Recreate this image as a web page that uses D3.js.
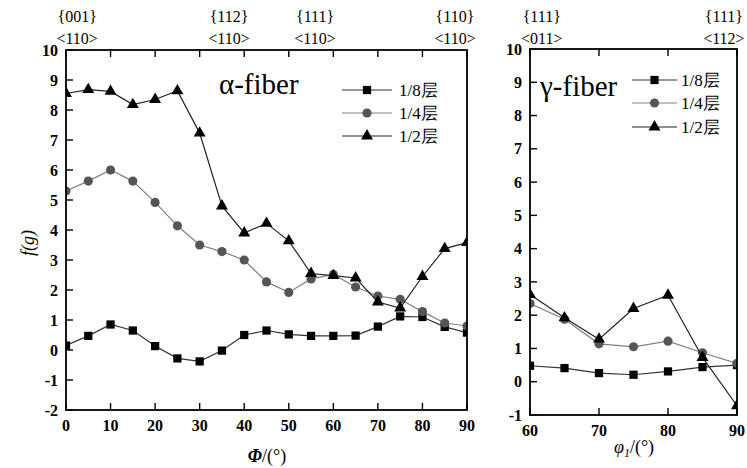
<!DOCTYPE html>
<html>
<head>
<meta charset="utf-8">
<script src="https://cdn.jsdelivr.net/npm/d3@7"></script>
</head>
<body style="margin:0; background:#fff">
<svg id="chart" width="747" height="468" font-family="Times New Roman"></svg>
<script>
// alpha-fiber, x = Phi (deg)
const alphaPhi = [0, 5, 10, 15, 20, 25, 30, 35, 40, 45, 50, 55, 60, 65, 70, 75, 80, 85, 90];
const alphaEighth = [0.15, 0.47, 0.85, 0.65, 0.13, -0.28, -0.38, -0.02, 0.5, 0.65, 0.52, 0.47, 0.47, 0.48, 0.78, 1.12, 1.1, 0.77, 0.58];
const alphaQuarter = [5.3, 5.63, 6.0, 5.63, 4.92, 4.14, 3.5, 3.28, 3.0, 2.27, 1.92, 2.37, 2.52, 2.1, 1.8, 1.69, 1.28, 0.9, 0.8];
const alphaHalf = [8.55, 8.68, 8.62, 8.18, 8.35, 8.64, 7.23, 4.8, 3.9, 4.22, 3.64, 2.55, 2.48, 2.4, 1.6, 1.4, 2.45, 3.38, 3.58];

// gamma-fiber, x = phi1 (deg)
const gammaPhi1 = [60, 65, 70, 75, 80, 85, 90];
const gammaEighth = [0.48, 0.41, 0.26, 0.21, 0.31, 0.44, 0.5];
const gammaQuarter = [2.35, 1.88, 1.14, 1.05, 1.22, 0.87, 0.55];
const gammaHalf = [2.62, 1.92, 1.28, 2.2, 2.6, 0.73, -0.72];

const seriesNames = ["1/8层", "1/4层", "1/2层"];

const alphaXTicks = [0, 10, 20, 30, 40, 50, 60, 70, 80, 90];
const alphaYTicks = [-2, -1, 0, 1, 2, 3, 4, 5, 6, 7, 8, 9, 10];
const gammaXTicks = [60, 70, 80, 90];
const gammaYTicks = [-1, 0, 1, 2, 3, 4, 5, 6, 7, 8, 9, 10];

// ideal orientations above the top axis: [x in data units, plane, direction]
const alphaOrient = [[2.5, "{001}", "<110>"], [36.6, "{112}", "<110>"], [55.9, "{111}", "<110>"], [87.3, "{110}", "<110>"]];
const gammaOrient = [[61.7, "{111}", "<011>"], [88.1, "{111}", "<112>"]];

var SERIF = "Times New Roman";

var styles = [
  { symbol: d3.symbolSquare, size: 68, fill: "#000", line: "#333" },
  { symbol: d3.symbolCircle, size: 66, fill: "#555", line: "#808080" },
  { symbol: d3.symbolTriangle, size: 62, fill: "#000", line: "#222" }
];

var svg = d3.select("#chart");

function label(parent, x, y, size, str) {
  return parent.append("text")
    .attr("x", x).attr("y", y)
    .attr("font-size", size)
    .attr("font-family", SERIF)
    .style("font-family", SERIF)
    .text(str);
}

function drawPanel(id, x, y, xs, series, xTicks, yTicks, orient) {
  var g = svg.append("g");
  var x0 = x.range()[0], x1 = x.range()[1];
  var y0 = y.range()[1], y1 = y.range()[0];

  g.append("clipPath").attr("id", id)
    .append("rect")
    .attr("x", x0).attr("y", y0)
    .attr("width", x1 - x0).attr("height", y1 - y0);

  // series
  var line = d3.line()
    .x(function (d) { return x(d[0]); })
    .y(function (d) { return y(d[1]); });

  series.forEach(function (vals, i) {
    var pts = xs.map(function (v, k) { return [v, vals[k]]; });
    var s = g.append("g").attr("clip-path", "url(#" + id + ")");
    s.append("path")
      .datum(pts)
      .attr("d", line)
      .attr("fill", "none")
      .attr("stroke", styles[i].line)
      .attr("stroke-width", 1.2);
    s.selectAll(".pt")
      .data(pts)
      .enter().append("path")
      .attr("transform", function (d) { return "translate(" + x(d[0]) + "," + y(d[1]) + ")"; })
      .attr("d", d3.symbol().type(styles[i].symbol).size(styles[i].size))
      .attr("fill", styles[i].fill);
  });

  // frame
  g.append("rect")
    .attr("x", x0).attr("y", y0)
    .attr("width", x1 - x0).attr("height", y1 - y0)
    .attr("fill", "none")
    .attr("stroke", "#000")
    .attr("stroke-width", 1.8);

  // inward ticks from the scales, labels outside
  var tk = g.append("g").attr("stroke", "#000").attr("stroke-width", 1.4);
  xTicks.forEach(function (t) {
    tk.append("line").attr("x1", x(t)).attr("x2", x(t)).attr("y1", y1).attr("y2", y1 - 7);
    tk.append("line").attr("x1", x(t)).attr("x2", x(t)).attr("y1", y0).attr("y2", y0 + 7);
    label(g, x(t), y1 + 21, 16, String(t))
      .attr("text-anchor", "middle")
      .attr("font-weight", "bold");
  });
  yTicks.forEach(function (t) {
    tk.append("line").attr("x1", x0).attr("x2", x0 + 7).attr("y1", y(t)).attr("y2", y(t));
    label(g, x0 - 8, y(t), 16, String(t))
      .attr("dy", "0.35em")
      .attr("text-anchor", "end")
      .attr("font-weight", "bold");
  });

  // orientation labels
  orient.forEach(function (o) {
    label(g, x(o[0]), 22, 16, o[1]).attr("text-anchor", "middle");
    label(g, x(o[0]), 44, 16, o[2]).attr("text-anchor", "middle");
  });

  return g;
}

function drawLegend(g, lx0, lx1, tx, rows) {
  rows.forEach(function (ry, i) {
    g.append("line")
      .attr("x1", lx0).attr("x2", lx1)
      .attr("y1", ry).attr("y2", ry)
      .attr("stroke", styles[i].line)
      .attr("stroke-width", 1.2);
    g.append("path")
      .attr("transform", "translate(" + (lx0 + lx1) / 2 + "," + ry + ")")
      .attr("d", d3.symbol().type(styles[i].symbol).size(styles[i].size))
      .attr("fill", styles[i].fill);
    label(g, tx, ry, 17, seriesNames[i]).attr("dy", "0.36em");
  });
}

// left panel: alpha-fiber
var xA = d3.scaleLinear().domain([0, 90]).range([66, 467]);
var yA = d3.scaleLinear().domain([-2, 10]).range([410, 50]);
var gA = drawPanel("clipA", xA, yA, alphaPhi, [alphaEighth, alphaQuarter, alphaHalf], alphaXTicks, alphaYTicks, alphaOrient);
drawLegend(gA, 342, 392, 399, [90, 113, 136]);
label(gA, 219, 94, 29, "α-fiber");

label(gA, 0, 0, 18, "f(g)")
  .attr("transform", "translate(34,243) rotate(-90)")
  .attr("text-anchor", "middle")
  .attr("font-style", "italic");
label(gA, 267, 462, 18, "")
  .attr("text-anchor", "middle")
  .call(function (t) {
    t.append("tspan").attr("font-style", "italic").attr("font-weight", "bold").text("Φ");
    t.append("tspan").text("/(°)");
  });

// right panel: gamma-fiber
var xG = d3.scaleLinear().domain([60, 90]).range([530, 737]);
var yG = d3.scaleLinear().domain([-1, 10]).range([415, 49]);
var gG = drawPanel("clipG", xG, yG, gammaPhi1, [gammaEighth, gammaQuarter, gammaHalf], gammaXTicks, gammaYTicks, gammaOrient);
drawLegend(gG, 632, 677, 681, [80, 103, 127]);
label(gG, 540, 96, 29, "γ-fiber");
label(gG, 634, 453, 18, "")
  .attr("text-anchor", "middle")
  .call(function (t) {
    t.append("tspan").attr("font-style", "italic").text("φ");
    t.append("tspan").attr("font-style", "italic").attr("font-size", 12).attr("dy", 4).text("1");
    t.append("tspan").attr("dy", -4).text("/(°)");
  });
</script>
</body>
</html>
